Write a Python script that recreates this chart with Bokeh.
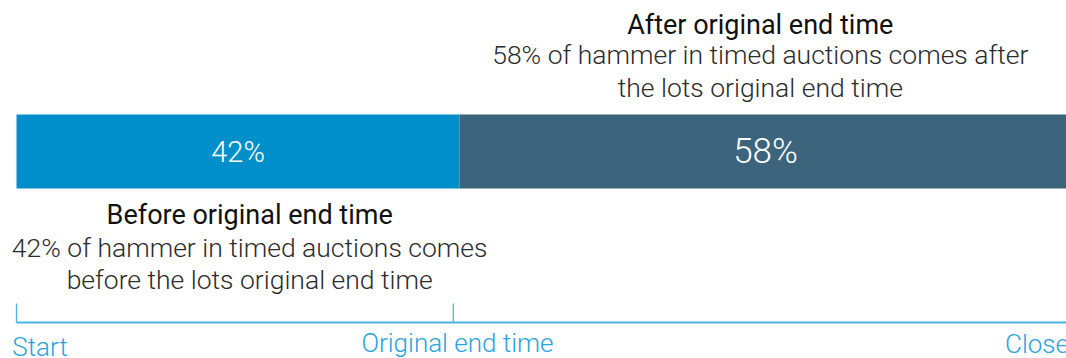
from bokeh.plotting import figure
from bokeh.models import Range1d, ColumnDataSource
from bokeh.core.properties import value
from bokeh.embed import file_html
from bokeh.resources import INLINE

# ---- data ----
categories = ["Before original end time", "After original end time"]
shares = [42, 58]
bar_labels = ["42%", "58%"]
descriptions = [
    ["42% of hammer in timed auctions comes", "before the lots original end time"],
    ["58% of hammer in timed auctions comes after", "the lots original end time"],
]
axis_labels = ["Start", "Original end time", "Close"]
axis_positions = [0, 42, 100]

colors = ["#008fcb", "#3c647d"]
axis_color = "#4ab3dd"
axis_text_color = "#2ba3db"

W, H = 1066, 358
left_px = 16
bar_px_per_pct = 10.55
axis_px_per_pct = 10.4

p = figure(width=W, height=H, output_backend="svg", toolbar_location=None,
           x_range=Range1d(-left_px / bar_px_per_pct, (W - left_px) / bar_px_per_pct),
           y_range=Range1d(H, 0), min_border=0)
p.extra_x_ranges["timeline"] = Range1d(-left_px / axis_px_per_pct,
                                       (W - left_px) / axis_px_per_pct)
p.axis.visible = False
p.grid.visible = False
p.outline_line_color = None
p.background_fill_color = "white"
p.border_fill_color = "white"

# bars
lefts, rights = [], []
acc = 0
for s in shares:
    lefts.append(acc)
    acc += s
    rights.append(acc)
mids = [(a + b) / 2 for a, b in zip(lefts, rights)]

src = ColumnDataSource(dict(left=lefts, right=rights, color=colors))
p.quad(left="left", right="right", top=114, bottom=188, fill_color="color",
       line_color=None, source=src)

head_font = value("Roboto")
body_font = value("Roboto Light")

# bar value labels
p.text(x=[mids[0]], y=[151], text=[bar_labels[0]], text_align="center",
       text_baseline="middle", text_color="white",
       text_font=body_font, text_font_size="29px")
p.text(x=[mids[1]], y=[151], text=[bar_labels[1]], text_align="center",
       text_baseline="middle", text_color="white",
       text_font=body_font, text_font_size="35px")

# after (above the bar)
ax = mids[1] - 0.5
p.text(x=[ax], y=[24], text=[categories[1]], text_align="center",
       text_baseline="middle", text_color="#111111",
       text_font=head_font, text_font_size="27px")
p.text(x=[ax, ax], y=[54, 87], text=descriptions[1], text_align="center",
       text_baseline="middle", text_color="#2b2b2b",
       text_font=body_font, text_font_size="26.5px")
# before (below the bar)
bx = mids[0] + 1.1
p.text(x=[bx], y=[214], text=[categories[0]], text_align="center",
       text_baseline="middle", text_color="#111111",
       text_font=head_font, text_font_size="27px")
p.text(x=[bx, bx], y=[247, 279], text=descriptions[0], text_align="center",
       text_baseline="middle", text_color="#2b2b2b",
       text_font=body_font, text_font_size="26.5px")

# timeline axis
p.segment(x0=[axis_positions[0]], x1=[axis_positions[-1] + 5], y0=[322], y1=[322],
          line_color=axis_color, line_width=2, x_range_name="timeline")
p.segment(x0=axis_positions[:2], x1=axis_positions[:2], y0=[303, 303], y1=[322, 322],
          line_color=axis_color, line_width=1.3, x_range_name="timeline")
p.text(x=[axis_positions[0] - 0.4], y=[346], text=[axis_labels[0]], text_align="left",
       text_baseline="middle", text_color=axis_text_color, x_range_name="timeline",
       text_font=body_font, text_font_size="26px")
p.text(x=[axis_positions[1] + 0.4], y=[342], text=[axis_labels[1]], text_align="center",
       text_baseline="middle", text_color=axis_text_color, x_range_name="timeline",
       text_font=body_font, text_font_size="26px")
p.text(x=[axis_positions[2] + 1.2], y=[343], text=[axis_labels[2]], text_align="right",
       text_baseline="middle", text_color=axis_text_color, x_range_name="timeline",
       text_font=body_font, text_font_size="26px")

open("out.html", "w").write(file_html(p, INLINE))
